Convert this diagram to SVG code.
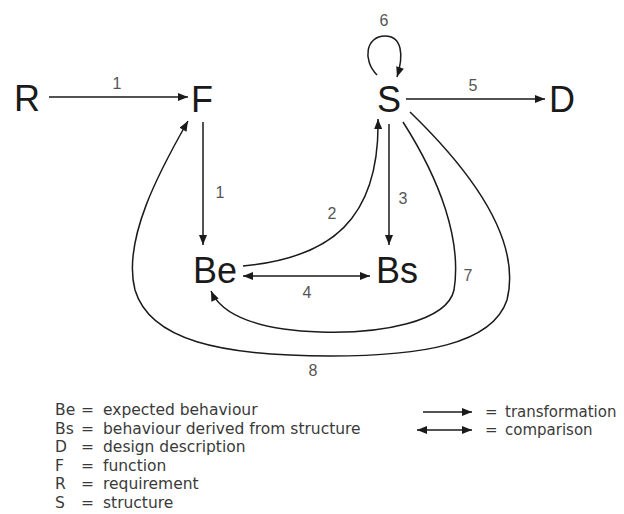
<svg xmlns="http://www.w3.org/2000/svg" width="624" height="514" viewBox="0 0 624 514">
<style>
.node{font-family:"Liberation Sans",Arial,sans-serif;font-size:36px;fill:#1a1a1a;text-anchor:middle}
.lbl{font-family:"Liberation Sans",Arial,sans-serif;font-size:16px;fill:#555;text-anchor:middle}
.leg{font-family:"DejaVu Sans",sans-serif;font-size:15.5px;fill:#3a3a3a}
.leg2{font-family:"DejaVu Sans",sans-serif;font-size:15px;fill:#3a3a3a}
.edge{fill:none;stroke:#1a1a1a;stroke-width:1.5}
</style>
<defs>
<marker id="ah" viewBox="0 0 10 8" refX="10" refY="4" markerWidth="11" markerHeight="8" markerUnits="userSpaceOnUse" orient="auto-start-reverse">
<path d="M0,0 L10,4 L0,8 Z" fill="#1a1a1a"/>
</marker>
</defs>
<rect width="624" height="514" fill="#fff"/>
<g id="R"><text class="node" x="27" y="111">R</text></g>
<g id="F"><text class="node" x="202" y="112">F</text></g>
<g id="S"><text class="node" x="389" y="112">S</text></g>
<g id="D"><text class="node" x="562" y="112">D</text></g>
<g id="Be"><text class="node" x="215" y="283">Be</text></g>
<g id="Bs"><text class="node" x="397" y="283">Bs</text></g>
<g id="connectors">
<path class="edge" d="M49,97 L188,97" marker-end="url(#ah)"/>
<path class="edge" d="M203,122 L203,245" marker-end="url(#ah)"/>
<path class="edge" d="M243,266 C330,258 380,220 378,119" marker-end="url(#ah)"/>
<path class="edge" d="M389,124 L389,245" marker-end="url(#ah)"/>
<path class="edge" d="M243,276 L370,276" marker-start="url(#ah)" marker-end="url(#ah)"/>
<path class="edge" d="M406,99 L545,99" marker-end="url(#ah)"/>
<path class="edge" d="M377,75 C362,60 366,36 385,36 C402,36 404,55 397,77" marker-end="url(#ah)"/>
<path class="edge" d="M403,122 C440,180 462,240 454,290 C447,322 380,334 320,332 C260,330 222,316 211,291" marker-end="url(#ah)"/>
<path class="edge" d="M410,112 C470,170 522,240 507,300 C492,345 420,356 330,356 C220,356 150,340 135,290 C122,240 160,170 188,121" marker-end="url(#ah)"/>
</g>
<g id="edge-labels">
<text class="lbl" x="117" y="89">1</text>
<text class="lbl" x="220" y="198">1</text>
<text class="lbl" x="332" y="219">2</text>
<text class="lbl" x="403" y="204">3</text>
<text class="lbl" x="307" y="298">4</text>
<text class="lbl" x="473" y="91">5</text>
<text class="lbl" x="384" y="26">6</text>
<text class="lbl" x="468" y="281">7</text>
<text class="lbl" x="313" y="376">8</text>
</g>
<g id="legend">
<text class="leg" x="55" y="415">Be</text><text class="leg" x="81" y="415">=</text><text class="leg" x="103" y="415">expected behaviour</text>
<text class="leg" x="55" y="433.5">Bs</text><text class="leg" x="81" y="433.5">=</text><text class="leg" x="103" y="433.5">behaviour derived from structure</text>
<text class="leg" x="55" y="452">D</text><text class="leg" x="81" y="452">=</text><text class="leg" x="103" y="452">design description</text>
<text class="leg" x="55" y="470.5">F</text><text class="leg" x="81" y="470.5">=</text><text class="leg" x="103" y="470.5">function</text>
<text class="leg" x="55" y="489">R</text><text class="leg" x="81" y="489">=</text><text class="leg" x="103" y="489">requirement</text>
<text class="leg" x="55" y="507.5">S</text><text class="leg" x="81" y="507.5">=</text><text class="leg" x="103" y="507.5">structure</text>
<path class="edge" d="M423,412 L472,412" marker-end="url(#ah)"/>
<path class="edge" d="M417,430 L472,430" marker-start="url(#ah)" marker-end="url(#ah)"/>
<text class="leg2" x="485" y="417">=</text><text class="leg2" x="505" y="417">transformation</text>
<text class="leg2" x="485" y="435">=</text><text class="leg2" x="505" y="435">comparison</text>
</g>
</svg>
